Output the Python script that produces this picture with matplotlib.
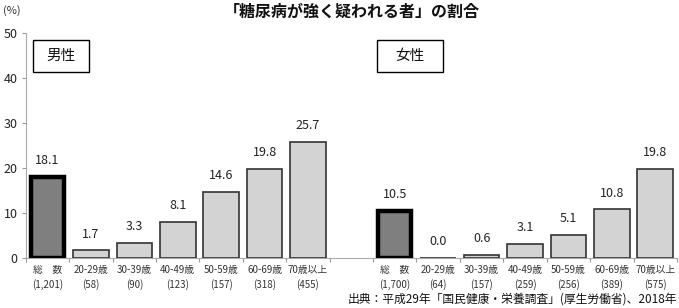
import matplotlib
matplotlib.use("Agg")
import matplotlib.pyplot as plt
from matplotlib.ticker import FixedLocator
from matplotlib.patches import Rectangle

plt.rcParams['font.family'] = ['Noto Sans CJK JP', 'DejaVu Sans']

age_groups = ["総　数", "20-29歳", "30-39歳", "40-49歳", "50-59歳", "60-69歳", "70歳以上"]
men_n = ["(1,201)", "(58)", "(90)", "(123)", "(157)", "(318)", "(455)"]
women_n = ["(1,700)", "(64)", "(157)", "(259)", "(256)", "(389)", "(575)"]
men_values = [18.1, 1.7, 3.3, 8.1, 14.6, 19.8, 25.7]
women_values = [10.5, 0.0, 0.6, 3.1, 5.1, 10.8, 19.8]
y_ticks = [0, 10, 20, 30, 40, 50]

fig = plt.figure(figsize=(6.79, 3.08), dpi=100)
ax = fig.add_axes([0.038, 0.162, 0.959, 0.731])

men_x = list(range(len(men_values)))
women_x = [i + len(men_values) + 1 for i in range(len(women_values))]

def draw(xs, vals):
    for i, (x, v) in enumerate(zip(xs, vals)):
        if i == 0:
            ax.bar(x, v, width=0.76, color="#7f7f7f", edgecolor="#000000", linewidth=3.2, zorder=3)
        else:
            ax.bar(x, v, width=0.82, color="#d3d3d3", edgecolor="#333333", linewidth=1.2, zorder=3)
        ax.text(x, v + 2.2, f"{v:.1f}", ha="center", va="bottom", fontsize=9, color="#222222")

draw(men_x, men_values)
draw(women_x, women_values)

ax.set_xlim(-0.5, 14.5)
ax.set_ylim(0, 50)
ax.set_yticks(y_ticks)
ax.set_yticklabels([str(t) for t in y_ticks], fontsize=9, color="#222222")
ax.tick_params(axis="y", length=3, color="#999999", pad=3)

ax.xaxis.set_major_locator(FixedLocator([x + 0.5 for x in range(-1, 15)]))
ax.xaxis.set_ticklabels([])
ax.tick_params(axis="x", length=3, color="#999999", direction="out")

for xs, ns in ((men_x, men_n), (women_x, women_n)):
    for x, g, n in zip(xs, age_groups, ns):
        ax.text(x, -2.7, g, ha="center", va="center", fontsize=7, color="#333333", clip_on=False)
        ax.text(x, -5.9, n, ha="center", va="center", fontsize=7, color="#333333", clip_on=False)

for s in ("top", "right"):
    ax.spines[s].set_visible(False)
ax.spines["left"].set_color("#aaaaaa")
ax.spines["bottom"].set_color("#aaaaaa")

# group label boxes (figure coordinates)
for (x0, w, label) in ((33, 56, "男性"), (377, 66, "女性")):
    fig.patches.append(Rectangle((x0 / 679, 1 - 72 / 308), w / 679, 32 / 308,
                                 transform=fig.transFigure, facecolor="white",
                                 edgecolor="#000000", linewidth=1.0, zorder=5))
    fig.text((x0 + w / 2) / 679, 1 - 56 / 308, label, ha="center", va="center",
             fontsize=10.5, color="#111111", zorder=6)

fig.text(0.005, 0.965, "(%)", fontsize=8, ha="left", va="center", color="#333333")
fig.text(0.518, 0.962, "「糖尿病が強く疑われる者」の割合", fontsize=11.5, fontweight="bold",
         ha="center", va="center", color="#111111")
fig.text(0.997, 0.028, "出典：平成29年「国民健康・栄養調査」(厚生労働省)、2018年", fontsize=8.5,
         ha="right", va="center", color="#111111")

fig.savefig("out.png", dpi=100)
